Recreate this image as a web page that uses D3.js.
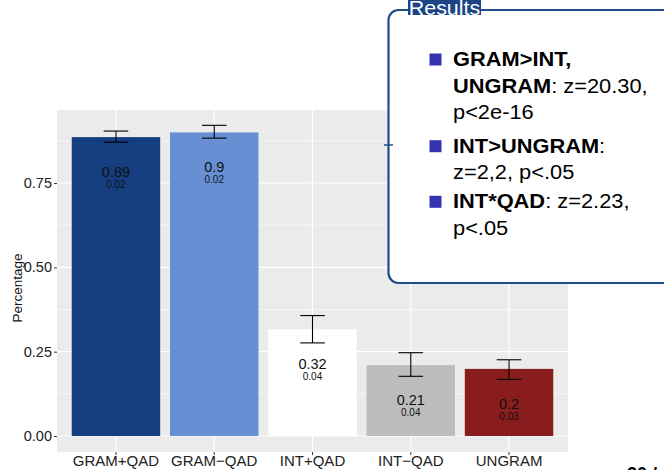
<!DOCTYPE html>
<html><head><meta charset="utf-8">
<script src="https://cdn.jsdelivr.net/npm/d3@7/dist/d3.min.js"></script>
<style>body{margin:0;background:#fff}svg{display:block;font-family:"Liberation Sans",Arial,sans-serif}</style>
</head><body><svg id="c" width="664" height="470"></svg>
<script>
const categories = ["GRAM+QAD","GRAM\u2212QAD","INT+QAD","INT\u2212QAD","UNGRAM"];
const values = [0.886, 0.900, 0.316, 0.210, 0.199];
const errLow = [0.871, 0.883, 0.276, 0.177, 0.168];
const errHigh = [0.904, 0.921, 0.357, 0.247, 0.226];
const valueLabels = ["0.89","0.9","0.32","0.21","0.2"];
const seLabels = ["0.02","0.02","0.04","0.04","0.03"];
const colors = ["#143e80","#6690d3","#ffffff","#bdbdbd","#891c1d"];
const yTicks = [0, 0.25, 0.5, 0.75];
const yMinor = [0.125, 0.375, 0.625, 0.875];
const resultItems = [
  [[{t:"GRAM>INT,",b:true}],[{t:"UNGRAM",b:true},{t:": z=20.30,",b:false}],[{t:"p<2e-16",b:false}]],
  [[{t:"INT>UNGRAM",b:true},{t:":",b:false}],[{t:"z=2,2, p<.05",b:false}]],
  [[{t:"INT*QAD",b:true},{t:": z=2.23,",b:false}],[{t:"p<.05",b:false}]]
];

const svg = d3.select("#c");
const P = {l:57, r:568, t:110, b:452};
const x = d3.scaleBand().domain(categories).range([P.l, P.r]).paddingInner(0.1).paddingOuter(0.15);
const cx = i => x(categories[i]) + x.bandwidth()/2;
const bw = x.bandwidth();
const unit = x.step();
const y = d3.scaleLinear().domain([-0.0474, 0.9664]).range([P.b, P.t]);

svg.append("rect").attr("x",P.l).attr("y",P.t).attr("width",P.r-P.l).attr("height",P.b-P.t).attr("fill","#ebebeb");
svg.selectAll(".gmin").data(yMinor).join("line").attr("x1",P.l).attr("x2",P.r).attr("y1",d=>y(d)).attr("y2",d=>y(d)).attr("stroke","#fff").attr("stroke-width",0.6);
svg.selectAll(".gmaj").data(yTicks).join("line").attr("x1",P.l).attr("x2",P.r).attr("y1",d=>y(d)).attr("y2",d=>y(d)).attr("stroke","#fff").attr("stroke-width",1.2);
svg.selectAll(".gv").data(categories).join("line").attr("x1",(d,i)=>cx(i)).attr("x2",(d,i)=>cx(i)).attr("y1",P.t).attr("y2",P.b).attr("stroke","#fff").attr("stroke-width",1.2);

svg.selectAll(".bar").data(values).join("rect").attr("x",(d,i)=>cx(i)-bw/2).attr("width",bw).attr("y",d=>y(d)).attr("height",d=>y(0)-y(d)).attr("fill",(d,i)=>colors[i]);

const ew = unit*0.25;
const eg = svg.append("g").attr("stroke","#000").attr("stroke-width",1.1);
values.forEach((v,i)=>{
  eg.append("line").attr("x1",cx(i)).attr("x2",cx(i)).attr("y1",y(errLow[i])).attr("y2",y(errHigh[i]));
  eg.append("line").attr("x1",cx(i)-ew/2).attr("x2",cx(i)+ew/2).attr("y1",y(errLow[i])).attr("y2",y(errLow[i]));
  eg.append("line").attr("x1",cx(i)-ew/2).attr("x2",cx(i)+ew/2).attr("y1",y(errHigh[i])).attr("y2",y(errHigh[i]));
});
svg.selectAll(".vl").data(values).join("text").attr("x",(d,i)=>cx(i)).attr("y",d=>y(d)+40).attr("text-anchor","middle").attr("font-size",14.5).attr("fill","#111").text((d,i)=>valueLabels[i]);
svg.selectAll(".sl").data(values).join("text").attr("x",(d,i)=>cx(i)).attr("y",d=>y(d)+51).attr("text-anchor","middle").attr("font-size",10).attr("fill","#111").text((d,i)=>seLabels[i]);

// axes
const ya = svg.append("g").attr("transform",`translate(${P.l},0)`).call(d3.axisLeft(y).tickValues(yTicks).tickFormat(d3.format(".2f")).tickSize(3).tickPadding(2));
ya.select(".domain").remove();
ya.selectAll("line").attr("stroke","#333");
ya.selectAll("text").attr("font-size",14.5).attr("fill","#222").attr("font-family","Liberation Sans, Arial, sans-serif");
svg.append("text").attr("transform",`translate(22,${288}) rotate(-90)`).attr("text-anchor","middle").attr("font-size",13.5).attr("fill","#111").text("Percentage");
const xa = svg.append("g").attr("transform",`translate(0,${P.b})`).call(d3.axisBottom(x).tickSize(3).tickPadding(2));
xa.select(".domain").remove();
xa.selectAll("line").attr("stroke","#333");
xa.selectAll("text").attr("font-size",15).attr("fill","#222").attr("font-family","Liberation Sans, Arial, sans-serif").attr("dy","0.72em").attr("y",3);

// results box
const bx = svg.append("g");
bx.append("rect").attr("x",388.5).attr("y",10).attr("width",290).attr("height",273).attr("rx",10).attr("fill","#fff").attr("stroke","#1f4c8a").attr("stroke-width",2.2);
bx.append("line").attr("x1",384).attr("x2",393).attr("y1",145).attr("y2",145).attr("stroke","#1f4c8a").attr("stroke-width",1.5);
bx.append("rect").attr("x",408).attr("y",-5).attr("width",73).attr("height",20).attr("fill","#1b4585");
bx.append("text").attr("x",444.5).attr("y",15).attr("text-anchor","middle").attr("font-size",19.5).attr("fill","#fff")
  .attr("transform","translate(444.5,0) scale(1.1,1) translate(-444.5,0)").text("Results");
const baselines = [[66,92.7,119.3],[152.7,179.3],[208.3,235]];
resultItems.forEach((item,k)=>{
  bx.append("rect").attr("x",429.5).attr("y",baselines[k][0]-12.5).attr("width",12).attr("height",12).attr("fill","#3434b0");
  item.forEach((line,j)=>{
    const t = bx.append("text").attr("x",453).attr("y",baselines[k][j]).attr("font-size",19.5).attr("fill","#000")
      .attr("transform","translate(453,0) scale(1.12,1) translate(-453,0)");
    line.forEach(s=>t.append("tspan").attr("font-weight",s.b?"bold":"normal").text(s.t));
  });
});
svg.append("text").attr("x",627).attr("y",480).attr("font-size",18).attr("font-weight","bold").attr("fill","#000").text("20 /");
</script></body></html>
